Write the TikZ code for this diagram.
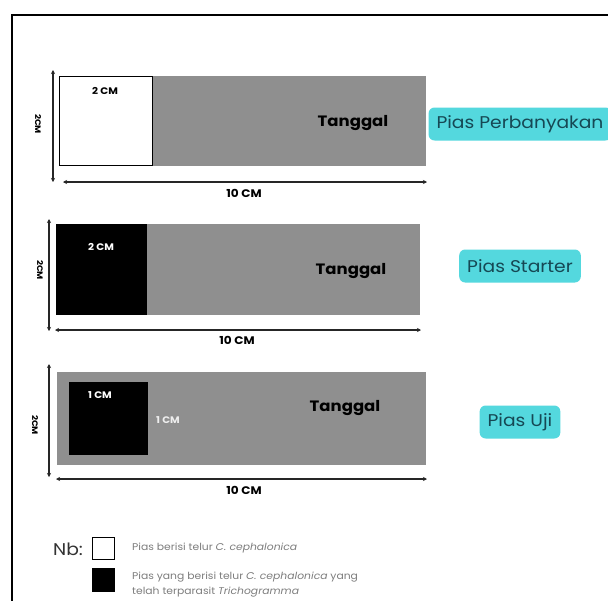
\documentclass[tikz,border=0pt]{standalone}
\usepackage{fontspec}
\setmainfont{Poppins}[FakeStretch=1.1]
\usetikzlibrary{arrows.meta}
\definecolor{stripgray}{RGB}{143,143,143}
\definecolor{tagfill}{RGB}{84,216,222}
\definecolor{tagtext}{RGB}{22,72,84}
\definecolor{legtext}{RGB}{125,125,125}
\begin{document}
\begin{tikzpicture}[x=1pt,y=-1pt,
  strip/.style={fill=stripgray, draw=none, inner sep=0pt, outer sep=0pt, anchor=north west},
  wbox/.style={fill=white, draw=black, line width=1pt, inner sep=0pt, outer sep=0pt, anchor=north west},
  bbox/.style={fill=black, draw=none, inner sep=0pt, outer sep=0pt, anchor=north west},
  dimarrow/.style={{Stealth[length=4pt,width=4pt]}-{Stealth[length=4pt,width=4pt]}, line width=1.2pt, black!85},
  dimtext/.style={font=\bfseries\fontsize{11}{12}\selectfont, inner sep=0pt},
  sidetext/.style={font=\bfseries\fontsize{8}{9}\selectfont, inner sep=0pt, rotate=-90},
  smalldim/.style={font=\bfseries\fontsize{9.5}{10}\selectfont, inner sep=0pt},
  tgl/.style={font=\bfseries\fontsize{15}{16}\selectfont, inner sep=0pt},
  tag/.style={fill=tagfill, rounded corners=6pt, text=tagtext, font=\fontsize{17}{19}\selectfont, inner xsep=8pt, inner ysep=0pt, minimum height=33pt},
  legend/.style={font=\fontsize{9.8}{14.5}\selectfont, text=legtext, inner sep=0pt, anchor=west, align=left}
]
\useasboundingbox (0,0) rectangle (608,600);
\fill[white] (0,0) rectangle (608,600);
% frame
\coordinate (frtr) at (612,15);
\coordinate (frbl) at (12,604);
\draw[line width=1.6pt] (frtr) -| (frbl);

% ---- panel 1
\node[strip, minimum width=273pt, minimum height=90pt] (g1) at (153,76) {};
\node[wbox, minimum width=93pt, minimum height=89pt] (w1) at (59.5,76.5) {};
\node[smalldim] (w1t) at (105,91) {2 CM};
\node[tgl] (t1) at (353,123) {Tanggal};
\coordinate (v1a) at (53,70);
\coordinate (v1b) at (53,182);
\draw[dimarrow] (v1a) -- (v1b);
\node[sidetext] (s1) at (38,124) {2CM};
\coordinate (h1a) at (63,182);
\coordinate (h1b) at (427,182);
\draw[dimarrow] (h1a) -- (h1b);
\node[dimtext] (d1) at (244,193) {10 CM};
\node[tag] (p1) at (520,124) {Pias Perbanyakan};

% ---- panel 2
\node[strip, minimum width=364pt, minimum height=91pt] (g2) at (56,224) {};
\node[bbox, minimum width=91pt, minimum height=91pt] (b2) at (56,224) {};
\node[smalldim, text=white] (b2t) at (101,247) {2 CM};
\node[tgl] (t2) at (351,271) {Tanggal};
\coordinate (v2a) at (49,219);
\coordinate (v2b) at (49,331);
\draw[dimarrow] (v2a) -- (v2b);
\node[sidetext] (s2) at (40,270) {2CM};
\coordinate (h2a) at (55,330);
\coordinate (h2b) at (421,330);
\draw[dimarrow] (h2a) -- (h2b);
\node[dimtext] (d2) at (237,340) {10 CM};
\node[tag] (p2) at (520,266) {Pias Starter};

% ---- panel 3
\node[strip, minimum width=369pt, minimum height=93pt] (g3) at (57,372) {};
\node[bbox, minimum width=79pt, minimum height=73pt] (b3) at (69,382) {};
\node[smalldim, text=white] (b3t) at (100,395) {1 CM};
\node[smalldim, text=white!85!stripgray] (b3r) at (168,420) {1 CM};
\node[tgl] (t3) at (345,408) {Tanggal};
\coordinate (v3a) at (49,364);
\coordinate (v3b) at (49,477);
\draw[dimarrow] (v3a) -- (v3b);
\node[sidetext] (s3) at (35,425) {2CM};
\coordinate (h3a) at (56,479);
\coordinate (h3b) at (427,479);
\draw[dimarrow] (h3a) -- (h3b);
\node[dimtext] (d3) at (244,490) {10 CM};
\node[tag] (p3) at (520,422) {Pias Uji};

% ---- legend
\node[font=\fontsize{17}{20}\selectfont, inner sep=0pt, text=black!80] (nb) at (68,549) {Nb:};
\node[wbox, minimum width=22pt, minimum height=22pt] (lw) at (92.5,537.5) {};
\node[bbox, minimum width=23pt, minimum height=24pt] (lb) at (92,568) {};
\node[legend] (l1) at (132,548) {Pias berisi telur \textit{C. cephalonica}};
\node[legend] (l2) at (132,584.5) {Pias yang berisi telur \textit{C. cephalonica} yang\\telah terparasit \textit{Trichogramma}};
\end{tikzpicture}
\end{document}
